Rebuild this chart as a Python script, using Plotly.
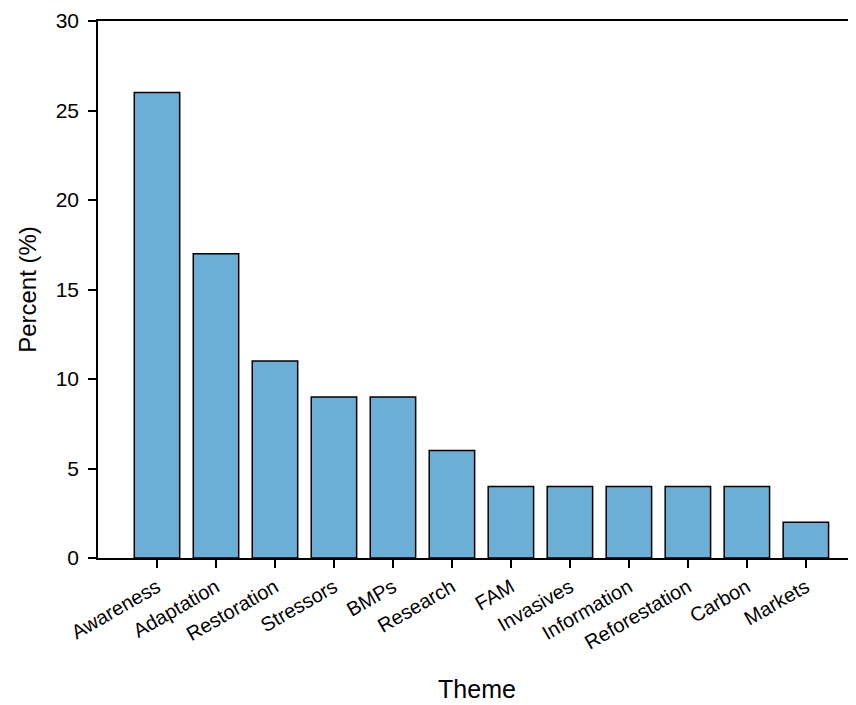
import plotly.graph_objects as go

themes = ["Awareness", "Adaptation", "Restoration", "Stressors", "BMPs", "Research",
          "FAM", "Invasives", "Information", "Reforestation", "Carbon", "Markets"]
percent = [26, 17, 11, 9, 9, 6, 4, 4, 4, 4, 4, 2]
y_ticks = [0, 5, 10, 15, 20, 25, 30]

fig = go.Figure(go.Bar(
    x=themes, y=percent,
    marker=dict(color="#6baed6", line=dict(color="black", width=1.5)),
    width=0.77,
))

font = "Liberation Sans, Arial, sans-serif"
fig.update_layout(
    width=848, height=697,
    margin=dict(l=90, r=0, t=13, b=147),
    paper_bgcolor="white", plot_bgcolor="white",
    showlegend=False,
    font=dict(family=font, color="black"),
    xaxis=dict(
        range=[-1.0, 11.85],
        showline=True, linecolor="black", linewidth=1.5, mirror=True,
        ticks="outside", ticklen=8, tickwidth=1.5, tickcolor="black",
        tickangle=-30, tickfont=dict(size=20),
        showgrid=False,
        title=dict(text="Theme", font=dict(size=25), standoff=28),
    ),
    yaxis=dict(
        range=[0, 30], tickvals=y_ticks,
        showline=True, linecolor="black", linewidth=1.5,
        ticks="outside", ticklen=8, tickwidth=1.5, tickcolor="black",
        tickfont=dict(size=21), ticklabelstandoff=5,
        showgrid=False, zeroline=False,
        title=dict(text="Percent (%)", font=dict(size=24), standoff=12),
    ),
)

fig.write_html("out.html")
